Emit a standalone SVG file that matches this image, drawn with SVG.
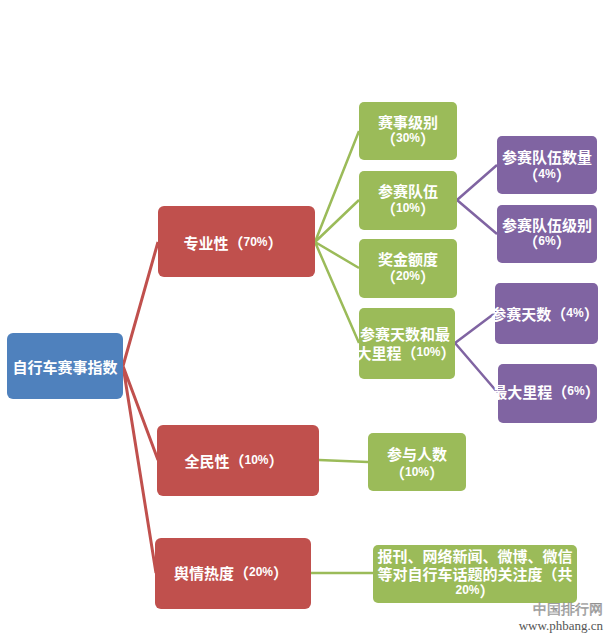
<svg xmlns="http://www.w3.org/2000/svg" width="612" height="636" viewBox="0 0 612 636">
<style>
.blue{fill:#4F81BD}
.red{fill:#C0504D}
.green{fill:#9BBB59}
.purple{fill:#8064A2}
.t{fill:#fff;font-family:"Noto Sans CJK SC","Noto Sans",sans-serif;font-size:15px;font-weight:bold;text-anchor:middle;dominant-baseline:central}
.n{font-family:"Liberation Sans",Arial,sans-serif;font-size:12px;font-weight:bold}
.lr{stroke:#C0504D;stroke-width:3;fill:none}
.lg{stroke:#9BBB59;stroke-width:2.5;fill:none}
.lp{stroke:#8064A2;stroke-width:2.5;fill:none}
.wm{fill:#999;font-family:"Liberation Serif",serif}
</style>
<rect width="612" height="636" fill="#fff"/>
<g id="connectors">
<path class="lr" d="M123,366 L158,242 M123,366 L158,460 M123,366 L156,573"/>
<path class="lg" d="M315,242 L359,131 M315,242 L359,200 M315,242 L359,268 M315,242 L359,343 M319,460 L368,462 M311,573 L373,573"/>
<path class="lp" d="M457,200 L497,165 M457,200 L497,234 M455,343 L495,313 M455,343 L498,393"/>
</g>
<g id="root"><rect class="blue" x="7" y="333" width="116" height="66" rx="6"/><text class="t" x="65" y="366">自行车赛事指数</text></g>
<g id="n1"><rect class="red" x="158" y="206" width="157" height="71" rx="6"/><text class="t" x="233" y="242">专业性（<tspan class="n">70%</tspan>）</text></g>
<g id="n2"><rect class="red" x="157" y="425" width="162" height="71" rx="6"/><text class="t" x="234" y="460">全民性（<tspan class="n">10%</tspan>）</text></g>
<g id="n3"><rect class="red" x="155" y="538" width="156" height="71" rx="6"/><text class="t" x="231" y="572">舆情热度（<tspan class="n">20%</tspan>）</text></g>
<g id="g1"><rect class="green" x="359" y="102" width="98" height="58" rx="5"/><text class="t" x="408" y="121">赛事级别</text><text class="t" x="408" y="138">（<tspan class="n">30%</tspan>）</text></g>
<g id="g2"><rect class="green" x="359" y="171" width="98" height="59" rx="5"/><text class="t" x="408" y="190">参赛队伍</text><text class="t" x="408" y="208">（<tspan class="n">10%</tspan>）</text></g>
<g id="g3"><rect class="green" x="359" y="239" width="98" height="59" rx="5"/><text class="t" x="408" y="258">奖金额度</text><text class="t" x="408" y="276">（<tspan class="n">20%</tspan>）</text></g>
<g id="g4"><rect class="green" x="359" y="308" width="96" height="71" rx="5"/><text class="t" x="405" y="333">参赛天数和最</text><text class="t" x="406" y="352">大里程（<tspan class="n">10%</tspan>）</text></g>
<g id="g5"><rect class="green" x="368" y="433" width="98" height="58" rx="5"/><text class="t" x="417" y="453">参与人数</text><text class="t" x="417" y="472">（<tspan class="n">10%</tspan>）</text></g>
<g id="g6"><rect class="green" x="373" y="545" width="204" height="58" rx="5"/><text class="t" x="475" y="555">报刊、网络新闻、微博、微信</text><text class="t" x="475" y="573">等对自行车话题的关注度（共</text><text class="t" x="475" y="590"><tspan class="n">20%</tspan>）</text></g>
<g id="p1"><rect class="purple" x="497" y="136" width="100" height="58" rx="5"/><text class="t" x="547" y="156">参赛队伍数量</text><text class="t" x="547" y="174">（<tspan class="n">4%</tspan>）</text></g>
<g id="p2"><rect class="purple" x="497" y="205" width="100" height="58" rx="5"/><text class="t" x="547" y="224">参赛队伍级别</text><text class="t" x="547" y="241">（<tspan class="n">6%</tspan>）</text></g>
<g id="p3"><rect class="purple" x="495" y="283" width="103" height="61" rx="5"/><text class="t" x="545" y="313">参赛天数（<tspan class="n">4%</tspan>）</text></g>
<g id="p4"><rect class="purple" x="498" y="364" width="99" height="59" rx="5"/><text class="t" x="546" y="391">最大里程（<tspan class="n">6%</tspan>）</text></g>
<g id="watermark">
<text class="wm" x="568" y="614" font-size="14" font-family="Noto Sans CJK SC,sans-serif" text-anchor="middle" fill="#aaa" style="fill:#b0b0b0" stroke="#888" stroke-width="0.4">中国排行网</text>
<text class="wm" x="603" y="630" font-size="13" text-anchor="end" style="fill:#555">www.phbang.cn</text>
</g>
</svg>
